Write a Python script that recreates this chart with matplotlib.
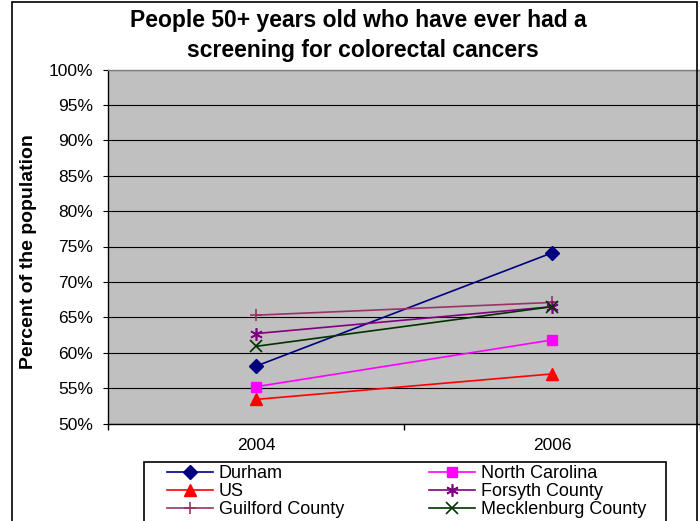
import matplotlib
matplotlib.use("Agg")
import matplotlib.pyplot as plt
from matplotlib.patches import Rectangle
from matplotlib.ticker import FixedLocator, FuncFormatter

plt.rcParams['font.family'] = ['Liberation Sans', 'DejaVu Sans']

# Survey years and screening rates (percent of people aged 50+)
years = ['2004', '2006']
durham = [58.1, 74.1]
north_carolina = [55.2, 61.8]
us = [53.4, 57.0]
forsyth = [62.7, 66.5]
guilford = [65.3, 67.1]
mecklenburg = [60.9, 66.5]

W, H = 700, 521
fig = plt.figure(figsize=(W / 100, H / 100), dpi=100)
fig.patch.set_facecolor('white')


def fx(px):
    return px / W


def fy(py):
    return 1 - py / H


ax = fig.add_axes([fx(108), fy(423.5), fx(700 - 108), (423.5 - 69.5) / H])
ax.set_facecolor('#C0C0C0')

xs = list(range(len(years)))
series = [
    ('Durham', durham, dict(color='#000080', marker='D', ms=7)),
    ('US', us, dict(color='#FF0000', marker='^', ms=8.5)),
    ('Guilford County', guilford, dict(color='#993366', marker='+', ms=9, mew=1.2)),
    ('North Carolina', north_carolina, dict(color='#FF00FF', marker='s', ms=7)),
    ('Forsyth County', forsyth, dict(color='#800080', marker=(6, 2, 0), ms=9, mew=1.2)),
    ('Mecklenburg County', mecklenburg, dict(color='#003300', marker='x', ms=8, mew=1.2)),
]
for name, vals, style in series:
    ax.plot(xs, vals, lw=1.2, label=name, zorder=3, **style)

ax.set_xlim(-0.5, len(years) - 0.5)
ax.set_ylim(50, 100)

# Y axis: 5% steps with gridlines
ax.yaxis.set_major_locator(FixedLocator(list(range(50, 101, 5))))
ax.yaxis.set_major_formatter(FuncFormatter(lambda v, p: f'{int(v)}%'))
ax.grid(axis='y', color='black', lw=0.8, zorder=1)
ax.tick_params(axis='y', direction='out', length=3.8, width=0.8, pad=7,
               labelsize=12.5, color='black')

# X axis: labels at categories, tick marks between categories
ax.set_xticks(xs)
ax.set_xticklabels(years)
ax.set_xticks([-0.5, 0.5, 1.5], minor=True)
ax.tick_params(axis='x', which='major', length=0, pad=10.5, labelsize=12.5)
ax.tick_params(axis='x', which='minor', direction='out', length=4, width=1,
               color='black')

ax.spines['left'].set_color('black')
ax.spines['bottom'].set_color('black')
ax.spines['top'].set_color('#808080')
ax.spines['right'].set_color('#808080')
for s in ax.spines.values():
    s.set_linewidth(1.0)

# Titles
fig.text(fx(358), fy(27.5), 'People 50+ years old who have ever had a',
         ha='center', va='baseline', fontsize=16.5, fontweight='bold')
fig.text(fx(363), fy(57), 'screening for colorectal cancers',
         ha='center', va='baseline', fontsize=16.5, fontweight='bold')
fig.text(fx(29), fy(251.5), 'Percent of the population', rotation=90,
         ha='center', va='center', fontsize=14, fontweight='bold')

# Legend
leg = fig.legend(loc='upper left', bbox_to_anchor=(fx(167), fy(465.5)),
                 ncol=2, frameon=False, fontsize=13, borderpad=0,
                 borderaxespad=0, handlelength=2.55, handletextpad=0.33,
                 columnspacing=4.7, labelspacing=0.04)

fig.add_artist(Rectangle((fx(144), -0.05), fx(666 - 144), fy(461.7) + 0.05,
                         transform=fig.transFigure, fill=False,
                         edgecolor='black', lw=1.2, zorder=10))
# Outer chart border
fig.add_artist(Rectangle((fx(12), -0.05), fx(697 - 12), fy(2.5) + 0.05,
                         transform=fig.transFigure, fill=False,
                         edgecolor='black', lw=1.2, zorder=10))

fig.savefig('out.png', dpi=100)
